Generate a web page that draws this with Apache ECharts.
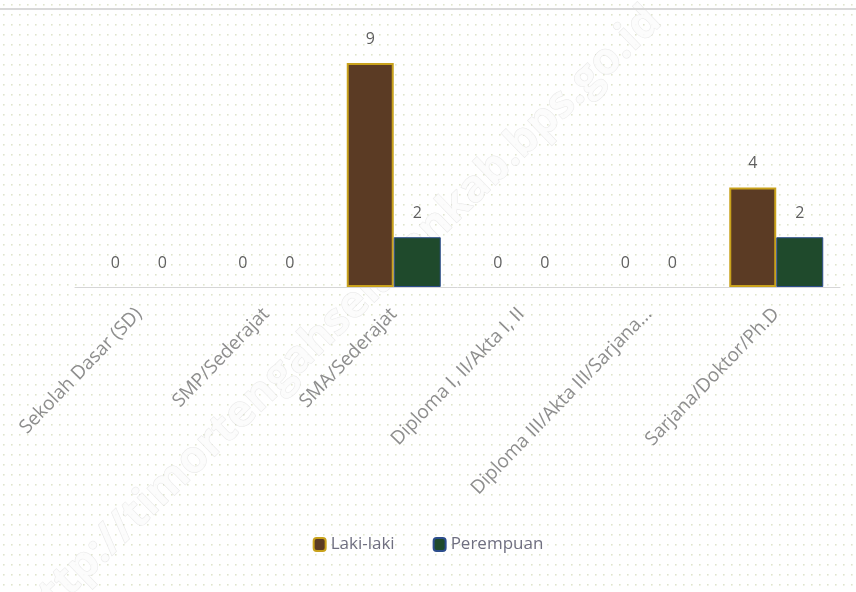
<!DOCTYPE html>
<html><head><meta charset="utf-8">
<script src="https://cdn.jsdelivr.net/npm/echarts@6/dist/echarts.min.js"></script>
<style>html,body{margin:0;padding:0;background:#fff}#c{width:856px;height:592px}</style>
</head><body><div id="c"></div>
<script>
const categories = ['Sekolah Dasar (SD)','SMP/Sederajat','SMA/Sederajat','Diploma I, II/Akta I, II','Diploma III/Akta III/Sarjana...','Sarjana/Doktor/Ph.D'];
const lakiLaki = [0,0,9,0,0,4];
const perempuan = [0,0,2,0,0,2];
const seriesNames = ['Laki-laki','Perempuan'];

const pc = document.createElement('canvas');
pc.width = 8; pc.height = 10;
const px = pc.getContext('2d');
px.fillStyle = '#ffffff'; px.fillRect(0,0,8,10);
px.fillStyle = '#dfe5cc'; px.fillRect(3,4,1.6,1.6);

function withZeroNoBorder(arr){
  return arr.map(v => v === 0 ? {value: v, itemStyle: {borderWidth: 0}} : v);
}

const chart = echarts.init(document.getElementById('c'), null, {renderer:'canvas'});
const lbl = {show:true, position:'top', color:'#5f5f5f', fontSize:16, fontFamily:'Open Sans', distance:16};
chart.setOption({
  backgroundColor: {image: pc, repeat: 'repeat'},
  animation: false,
  grid: {left: 75, right: 16, top: 63, height: 224, containLabel: false},
  legend: {
    bottom: 34, left: 'center', itemWidth: 12, itemHeight: 13, itemGap: 38,
    textStyle: {color:'#6f6f80', fontSize:17, fontFamily:'Open Sans'},
    data: seriesNames
  },
  xAxis: {
    type: 'category', data: categories,
    axisLine: {lineStyle: {color:'#d6d6d6', width:1}},
    axisTick: {show:false},
    axisLabel: {rotate: 46, color:'#8e8e8e', fontSize:19, fontFamily:'Open Sans', margin:24, interval:0}
  },
  yAxis: {type:'value', min:0, max:9, show:false, splitLine:{show:false}},
  series: [
    {name: seriesNames[0], type:'bar', data: withZeroNoBorder(lakiLaki), barWidth: 47, barGap: '0%', z: 3,
     itemStyle:{color:'#5b3b24', borderColor:'#c9a21c', borderWidth:2}, label: lbl},
    {name: seriesNames[1], type:'bar', data: withZeroNoBorder(perempuan), barWidth: 47, z: 3,
     itemStyle:{color:'#1f4a2c', borderColor:'#2c4d8c', borderWidth:1}, label: lbl}
  ],
  graphic: [
    {type:'rect', left:0, top:8, shape:{width:856, height:2}, style:{fill:'#d8d8d8'}, z:100},
    {type:'text', x: 340, y: 318, rotation: 44*Math.PI/180, silent:true, z:0,
     style:{text:'http://timortengahselatankab.bps.go.id', fontSize:44, fontWeight:'bold', fontFamily:'Open Sans',
            fill:'rgba(252,252,252,0.85)', stroke:'rgba(180,180,180,0.3)', lineWidth:1, align:'center', verticalAlign:'middle'}}
  ]
});
</script></body></html>
